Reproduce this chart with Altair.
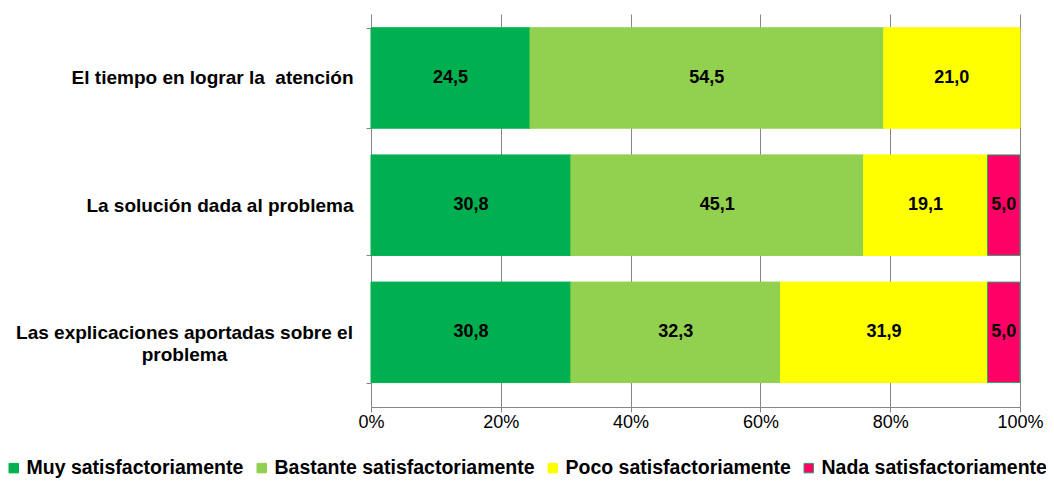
import altair as alt
import pandas as pd

questions = [
    "El tiempo en lograr la \u00a0atención",
    "La solución dada al problema",
    "Las explicaciones aportadas sobre el problema",
]
levels = [
    "Muy satisfactoriamente",
    "Bastante satisfactoriamente",
    "Poco satisfactoriamente",
    "Nada satisfactoriamente",
]
muy = [24.5, 30.8, 30.8]
bastante = [54.5, 45.1, 32.3]
poco = [21.0, 19.1, 31.9]
nada = [0.0, 5.0, 5.0]
tick_values = [0, 0.2, 0.4, 0.6, 0.8, 1.0]

fill_colors = ["#00B050", "#92D050", "#FFFF00", "#FF0066"]
stroke_colors = ["#00B050", "#92D050", "#FFFF00", "#2E9E6B"]

rows = []
for qi, q in enumerate(questions):
    for li, (lvl, series) in enumerate(zip(levels, [muy, bastante, poco, nada])):
        v = series[qi]
        if v > 0:
            rows.append({"q": q, "nivel": lvl, "orden": li, "v": v})
df = pd.DataFrame(rows)

FONT = "Liberation Sans"
long_q = questions[2]
test_long = f"datum.value == '{long_q}'"

base = alt.Chart(df).transform_stack(
    stack="v", groupby=["q"], sort=[alt.SortField("orden")], as_=["v0", "v1"], offset="normalize"
).transform_calculate(
    mid="(datum.v0 + datum.v1) / 2",
    lbl="replace(format(datum.v, '.1f'), '.', ',')",
)

y_enc = alt.Y(
    "q:N",
    sort=questions,
    title=None,
    scale=alt.Scale(paddingInner=0.21, paddingOuter=0.15, align=0.36),
    axis=alt.Axis(
        tickBand="extent",
        tickSize=5,
        tickColor="#868686",
        domainColor="#868686",
        labelFont=FONT,
        labelFontSize=19,
        labelFontWeight="bold",
        labelColor="#000000",
        labelLimit=400,
        labelLineHeight=22,
        labelBaseline="middle",
        labelExpr=f"{test_long} ? ['Las explicaciones aportadas sobre el', 'problema'] : datum.value",
        labelAlign={"condition": {"test": test_long, "value": "center"}, "value": "right"},
        labelPadding={"condition": {"test": test_long, "value": 182}, "value": 13},
    ),
)

legend_kw = dict(
    title=None,
    orient="none",
    legendX=-367,
    legendY=444,
    direction="horizontal",
    columns=4,
    symbolType="square",
    symbolSize=90,
    symbolStrokeWidth=1,
    symbolOpacity=1,
    labelFont=FONT,
    labelFontSize=19.5,
    labelFontWeight="bold",
    labelColor="#000000",
    labelOffset=3,
    columnPadding=8,
    labelLimit=400,
    padding=0,
)

bars = base.mark_bar(strokeWidth=1).encode(
    x=alt.X(
        "v0:Q",
        title=None,
        scale=alt.Scale(domain=[0, 1], nice=False),
        axis=alt.Axis(
            values=tick_values,
            format=".0%",
            grid=True,
            gridColor="#868686",
            tickColor="#868686",
            domainColor="#868686",
            tickSize=5,
            labelFont=FONT,
            labelFontSize=18,
            labelColor="#000000",
            labelPadding=1,
            labelFlush=False,
        ),
    ),
    x2="v1:Q",
    y=y_enc,
    color=alt.Color(
        "nivel:N",
        scale=alt.Scale(domain=levels, range=fill_colors),
        legend=alt.Legend(**legend_kw),
    ),
    stroke=alt.Stroke(
        "nivel:N",
        scale=alt.Scale(domain=levels, range=stroke_colors),
        legend=alt.Legend(**legend_kw),
    ),
)

labels = base.mark_text(
    font=FONT, fontSize=18, fontWeight="bold", color="#000000", baseline="middle", align="center"
).encode(
    x=alt.X("mid:Q"),
    y=alt.Y("q:N", sort=questions),
    text="lbl:N",
)

chart = alt.layer(bars, labels).properties(
    width=649,
    height=393,
    autosize=alt.AutoSizeParams(type="none"),
    padding={"left": 363, "top": 6, "right": 26, "bottom": 73},
).configure_view(stroke=None)

chart.save("out.html", embed_options={"renderer": "svg", "actions": False})
